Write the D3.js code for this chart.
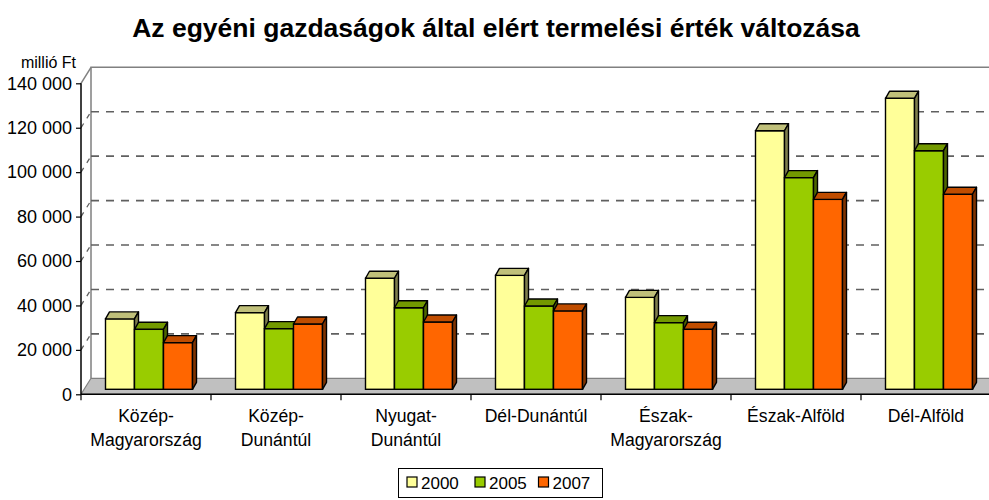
<!DOCTYPE html>
<html>
<head>
<meta charset="utf-8">
<script src="https://cdn.jsdelivr.net/npm/d3@7"></script>
<style>
  body { margin: 0; background: #fff; }
  svg text { font-family: "Liberation Sans", Arial, sans-serif; fill: #000; }
</style>
</head>
<body>
<div id="chart"></div>
<script>
// data
var categories = ["Közép-Magyarország", "Közép-Dunántúl", "Nyugat-Dunántúl", "Dél-Dunántúl", "Észak-Magyarország", "Észak-Alföld", "Dél-Alföld"];
var categoryLines = [["Közép-", "Magyarország"], ["Közép-", "Dunántúl"], ["Nyugat-", "Dunántúl"], ["Dél-Dunántúl"], ["Észak-", "Magyarország"], ["Észak-Alföld"], ["Dél-Alföld"]];
var years = ["2000", "2005", "2007"];
var v2000 = [31700, 34500, 50000, 51300, 41400, 116400, 131000];
var v2005 = [27000, 27300, 36700, 37500, 30000, 95300, 107400];
var v2007 = [21000, 29400, 30300, 35300, 27000, 85500, 87800];
var yTicks = [0, 20000, 40000, 60000, 80000, 100000, 120000, 140000];

var series = [v2000, v2005, v2007];
var front = ["#FFFF99", "#99CC00", "#FF6600"];
var topCol = ["#C0C07A", "#739900", "#C04D00"];
var sideCol = ["#80804D", "#4D6600", "#803300"];

var width = 989, height = 500;
var svg = d3.select("#chart").append("svg")
    .attr("width", width)
    .attr("height", height);

// 3d offsets: whole depth of the plot, and bar depth
var wallDx = 10, wallDy = -16;
var barShiftX = 3, barShiftY = -5;
var barDx = 4, barDy = -7;

var x0 = d3.scaleBand().domain(categories).range([81, 991]);
var x1 = d3.scaleBand().domain(years).range([0, 87]);
var y = d3.scaleLinear().domain([0, 140000]).range([394.3, 83.3]);

var fmt = d3.formatLocale({ decimal: ",", thousands: " ", grouping: [3], currency: ["", ""] }).format(",d");

// title
svg.append("text")
    .attr("x", 496).attr("y", 37)
    .attr("text-anchor", "middle")
    .style("font-size", "26.5px")
    .style("font-weight", "bold")
    .text("Az egyéni gazdaságok által elért termelési érték változása");

var xL = x0.range()[0], xR = x0.range()[1];

// back wall border
svg.append("path")
    .attr("d", "M" + (xL + wallDx) + "," + (y(0) + wallDy) + "V" + (y(140000) + wallDy) + "H" + (xR + wallDx))
    .attr("fill", "none").attr("stroke", "#808080").attr("stroke-width", 1.5);
svg.append("line")
    .attr("x1", xL).attr("y1", y(140000))
    .attr("x2", xL + wallDx).attr("y2", y(140000) + wallDy)
    .attr("stroke", "#808080").attr("stroke-width", 1.5);

// dashed gridlines on back wall and side wall
var grid = yTicks.filter(function(d) { return d > 0 && d < 140000; });
svg.selectAll(".grid").data(grid).enter().append("line")
    .attr("x1", xL + wallDx).attr("x2", xR + wallDx)
    .attr("y1", function(d) { return y(d) + wallDy; })
    .attr("y2", function(d) { return y(d) + wallDy; })
    .attr("stroke", "#606060").attr("stroke-width", 1.6)
    .attr("stroke-dasharray", "8,7");
svg.selectAll(".gridside").data(grid).enter().append("line")
    .attr("x1", xL).attr("x2", xL + wallDx)
    .attr("y1", function(d) { return y(d); })
    .attr("y2", function(d) { return y(d) + wallDy; })
    .attr("stroke", "#606060").attr("stroke-width", 1.3)
    .attr("stroke-dasharray", "5,6");

// floor
svg.append("path")
    .attr("d", "M" + xL + "," + y(0) + "L" + (xL + wallDx) + "," + (y(0) + wallDy) + "H" + (xR + wallDx) + "L" + xR + "," + y(0) + "Z")
    .attr("fill", "#C0C0C0").attr("stroke", "#808080").attr("stroke-width", 1.2);

// bars
var groups = svg.selectAll(".cat").data(categories).enter().append("g");
groups.each(function(c, ci) {
  var g = d3.select(this);
  years.forEach(function(yr, si) {
    var v = series[si][ci];
    var bx = x0(c) + (x0.bandwidth() - 87) / 2 + barShiftX + x1(yr);
    var bw = x1.bandwidth();
    var yt = y(v) + barShiftY, yb = y(0) + barShiftY;
    g.append("rect")
        .attr("x", bx).attr("y", yt).attr("width", bw).attr("height", yb - yt)
        .attr("fill", front[si]).attr("stroke", "#000").attr("stroke-width", 1.4);
    g.append("path")
        .attr("d", "M" + bx + "," + yt + "L" + (bx + barDx) + "," + (yt + barDy) + "H" + (bx + bw + barDx) + "L" + (bx + bw) + "," + yt + "Z")
        .attr("fill", topCol[si]).attr("stroke", "#000").attr("stroke-width", 1.4).attr("stroke-linejoin", "round");
    g.append("path")
        .attr("d", "M" + (bx + bw) + "," + yt + "L" + (bx + bw + barDx) + "," + (yt + barDy) + "V" + (yb + barDy) + "L" + (bx + bw) + "," + yb + "Z")
        .attr("fill", sideCol[si]).attr("stroke", "#000").attr("stroke-width", 1.4).attr("stroke-linejoin", "round");
  });
});

// value axis
var yAxis = svg.append("g")
    .attr("transform", "translate(" + xL + ",0)")
    .call(d3.axisLeft(y).tickValues(yTicks).tickSize(5).tickPadding(4).tickFormat(fmt));
yAxis.select(".domain").attr("stroke", "#000").attr("stroke-width", 1.5).attr("d", "M0," + y(140000) + "V" + y(0));
yAxis.selectAll(".tick line").attr("stroke", "#000").attr("stroke-width", 1.2);
yAxis.selectAll(".tick text")
    .style("font-size", "18px")
    .style("font-family", "'Liberation Sans', Arial, sans-serif");

svg.append("text")
    .attr("x", 76).attr("y", 68)
    .attr("text-anchor", "end")
    .style("font-size", "16px")
    .text("millió Ft");

// category axis
svg.append("line")
    .attr("x1", xL).attr("x2", xR)
    .attr("y1", y(0)).attr("y2", y(0))
    .attr("stroke", "#000").attr("stroke-width", 1.5);
svg.selectAll(".ctick").data(categories.concat(["end"])).enter().append("line")
    .attr("x1", function(d, i) { return xL + i * x0.step(); })
    .attr("x2", function(d, i) { return xL + i * x0.step(); })
    .attr("y1", y(0)).attr("y2", y(0) + 6)
    .attr("stroke", "#000").attr("stroke-width", 1.2);

svg.selectAll(".clabel").data(categories).enter().append("text")
    .attr("text-anchor", "middle")
    .style("font-size", "17.6px")
    .each(function(c, i) {
      var t = d3.select(this);
      categoryLines[i].forEach(function(line, li) {
        t.append("tspan")
            .attr("x", x0(c) + x0.bandwidth() / 2)
            .attr("y", 421.5 + li * 24)
            .text(line);
      });
    });

// legend
var legend = svg.append("g");
legend.append("rect")
    .attr("x", 398.5).attr("y", 468.5).attr("width", 204).attr("height", 29)
    .attr("fill", "#fff").attr("stroke", "#000").attr("stroke-width", 1);
var legX = [407, 475, 538.5];
years.forEach(function(yr, i) {
  legend.append("rect")
      .attr("x", legX[i]).attr("y", 477).attr("width", 10).attr("height", 10)
      .attr("fill", front[i]).attr("stroke", "#000").attr("stroke-width", 1.2);
  legend.append("text")
      .attr("x", legX[i] + 14).attr("y", 489)
      .style("font-size", "17px")
      .text(yr);
});
</script>
</body>
</html>
